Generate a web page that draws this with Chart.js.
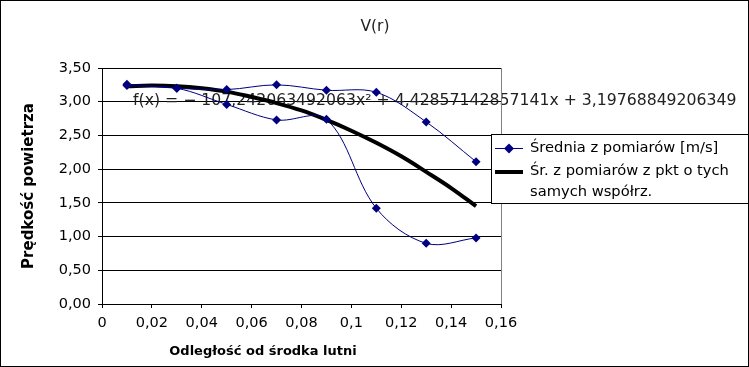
<!DOCTYPE html>
<html>
<head>
<meta charset="utf-8">
<script src="https://cdn.jsdelivr.net/npm/chart.js@4/dist/chart.umd.min.js"></script>
<style>
  html, body { margin: 0; padding: 0; background: #fff; }
  canvas { display: block; }
</style>
</head>
<body>
<canvas id="chart" width="749" height="367"></canvas>
<script>
// ── Datos ───────────────────────────────────────────────────────────
// promedios: rama superior (de 0,15 hacia el centro) y rama inferior (vuelta)
const radiusUpper = [0.15, 0.13, 0.11, 0.09, 0.07, 0.05, 0.03, 0.01];
const speedUpper  = [2.11, 2.70, 3.14, 3.17, 3.25, 3.18, 3.20, 3.26];
const radiusLower = [0.01, 0.03, 0.05, 0.07, 0.09, 0.11, 0.13, 0.15];
const speedLower  = [3.24, 3.20, 2.96, 2.73, 2.74, 1.42, 0.90, 0.98];

// línea negra
const radiusFit = [0.01, 0.02, 0.03, 0.04, 0.05, 0.06, 0.07, 0.08, 0.09, 0.10, 0.11, 0.12, 0.13, 0.14, 0.15];
const speedFit  = [3.23, 3.24, 3.23, 3.20, 3.15, 3.07, 2.98, 2.87, 2.73, 2.57, 2.39, 2.19, 1.96, 1.72, 1.45];

const seriesNames = ['Średnia z pomiarów [m/s]', ['Śr. z pomiarów z pkt o tych', 'samych współrz.']];
const chartTitle  = 'V(r)';
const xTitle      = 'Odległość od środka lutni';
const yTitle      = 'Prędkość powietrza';
const fitLabel    = 'f(x) = − 107,242063492063x² + 4,42857142857141x + 3,19768849206349';

const FONT = "'DejaVu Sans', sans-serif";
const NAVY = '#000080';

function toPoints(xs, ys) {
    return xs.map((x, i) => ({ x, y: ys[i] }));
}

const meanPoints = toPoints(radiusUpper, speedUpper).concat(toPoints(radiusLower, speedLower));
const fitPoints  = toPoints(radiusFit, speedFit);

// ── Plugin: título, ecuación, leyenda y marco ───────────────────────
const frame = {
    id: 'frame',
    beforeDraw(chart) {
        const { ctx, width, height } = chart;
        ctx.save();
        ctx.fillStyle = '#fff';
        ctx.fillRect(0, 0, width, height);
        ctx.restore();
    },
    beforeDatasetsDraw(chart) {
        const ctx = chart.ctx;
        ctx.save();
        ctx.fillStyle = '#222';
        ctx.font = '15.7px ' + FONT;
        ctx.textBaseline = 'middle';
        ctx.textAlign = 'left';
        ctx.fillText(fitLabel, 133, 101);
        ctx.restore();
    },
    afterDraw(chart) {
        const { ctx, chartArea: a, width, height } = chart;
        ctx.save();

        // borde derecho del área de trazado
        ctx.strokeStyle = '#808080';
        ctx.lineWidth = 1;
        ctx.beginPath();
        ctx.moveTo(Math.round(a.right) + 0.5, a.top);
        ctx.lineTo(Math.round(a.right) + 0.5, a.bottom);
        ctx.stroke();

        // título y título del eje X
        ctx.fillStyle = '#222';
        ctx.textAlign = 'center';
        ctx.textBaseline = 'middle';
        ctx.font = '15.5px ' + FONT;
        ctx.fillText(chartTitle, 375, 27);
        ctx.fillStyle = '#000';
        ctx.font = 'bold 13px ' + FONT;
        ctx.fillText(xTitle, 263, 352);

        // leyenda
        const lx = 491, ly = 134, lw = 258, lh = 69;
        ctx.fillStyle = '#fff';
        ctx.fillRect(lx, ly, lw, lh);
        ctx.strokeStyle = '#000';
        ctx.lineWidth = 1;
        ctx.strokeRect(lx + 0.5, ly + 0.5, lw, lh);

        ctx.strokeStyle = NAVY;
        ctx.lineWidth = 1;
        ctx.beginPath();
        ctx.moveTo(495, 148.5);
        ctx.lineTo(523, 148.5);
        ctx.stroke();
        ctx.fillStyle = NAVY;
        ctx.beginPath();
        ctx.moveTo(509, 143.5);
        ctx.lineTo(514, 148.5);
        ctx.lineTo(509, 153.5);
        ctx.lineTo(504, 148.5);
        ctx.closePath();
        ctx.fill();

        ctx.strokeStyle = '#000';
        ctx.lineWidth = 4;
        ctx.beginPath();
        ctx.moveTo(495, 172);
        ctx.lineTo(523, 172);
        ctx.stroke();

        ctx.fillStyle = '#000';
        ctx.font = '14.7px ' + FONT;
        ctx.textAlign = 'left';
        ctx.fillText(seriesNames[0], 530, 148);
        ctx.fillText(seriesNames[1][0], 530, 171);
        ctx.fillText(seriesNames[1][1], 530, 192);

        // marco exterior
        ctx.lineWidth = 1;
        ctx.strokeRect(0.5, 0.5, width - 1, height - 1);
        ctx.restore();
    }
};

const decimal = (v, d) => v.toFixed(d).replace('.', ',');

new Chart(document.getElementById('chart'), {
    type: 'scatter',
    data: {
        datasets: [
            {
                label: seriesNames[1].join(' '),
                data: fitPoints,
                showLine: true,
                borderColor: '#000',
                borderWidth: 4,
                pointRadius: 0,
                tension: 0.4,
                order: 1
            },
            {
                label: seriesNames[0],
                data: meanPoints,
                showLine: true,
                borderColor: NAVY,
                backgroundColor: NAVY,
                borderWidth: 1,
                pointStyle: 'rectRot',
                pointRadius: 4.5,
                pointBorderWidth: 0,
                tension: 0.35,
                order: 0
            }
        ]
    },
    options: {
        responsive: false,
        animation: false,
        devicePixelRatio: 1,
        layout: { padding: { top: 68, right: 248, left: 0, bottom: 0 } },
        plugins: {
            legend: { display: false },
            title: { display: false },
            tooltip: { enabled: false }
        },
        scales: {
            x: {
                type: 'linear',
                min: 0, max: 0.16,
                afterFit: (s) => { s.height = 63; },
                grid: { drawOnChartArea: false, drawTicks: true, tickLength: 4, color: '#000' },
                border: { display: true, color: '#000' },
                ticks: {
                    stepSize: 0.02,
                    padding: 7,
                    color: '#000',
                    font: { family: FONT, size: 14.5 },
                    callback: (v) => String(parseFloat(v.toFixed(2))).replace('.', ',')
                }
            },
            y: {
                min: 0, max: 3.5,
                afterFit: (s) => { s.width = 102; },
                grid: { color: '#000', tickLength: 4 },
                border: { display: true, color: '#000' },
                ticks: {
                    stepSize: 0.5,
                    padding: 7,
                    color: '#000',
                    font: { family: FONT, size: 14.5 },
                    callback: (v) => decimal(v, 2)
                },
                title: {
                    display: true,
                    text: yTitle,
                    color: '#000',
                    font: { family: FONT, size: 15, weight: 'bold' },
                    padding: { top: 20, bottom: 0 }
                }
            }
        }
    },
    plugins: [frame]
});
</script>
</body>
</html>
